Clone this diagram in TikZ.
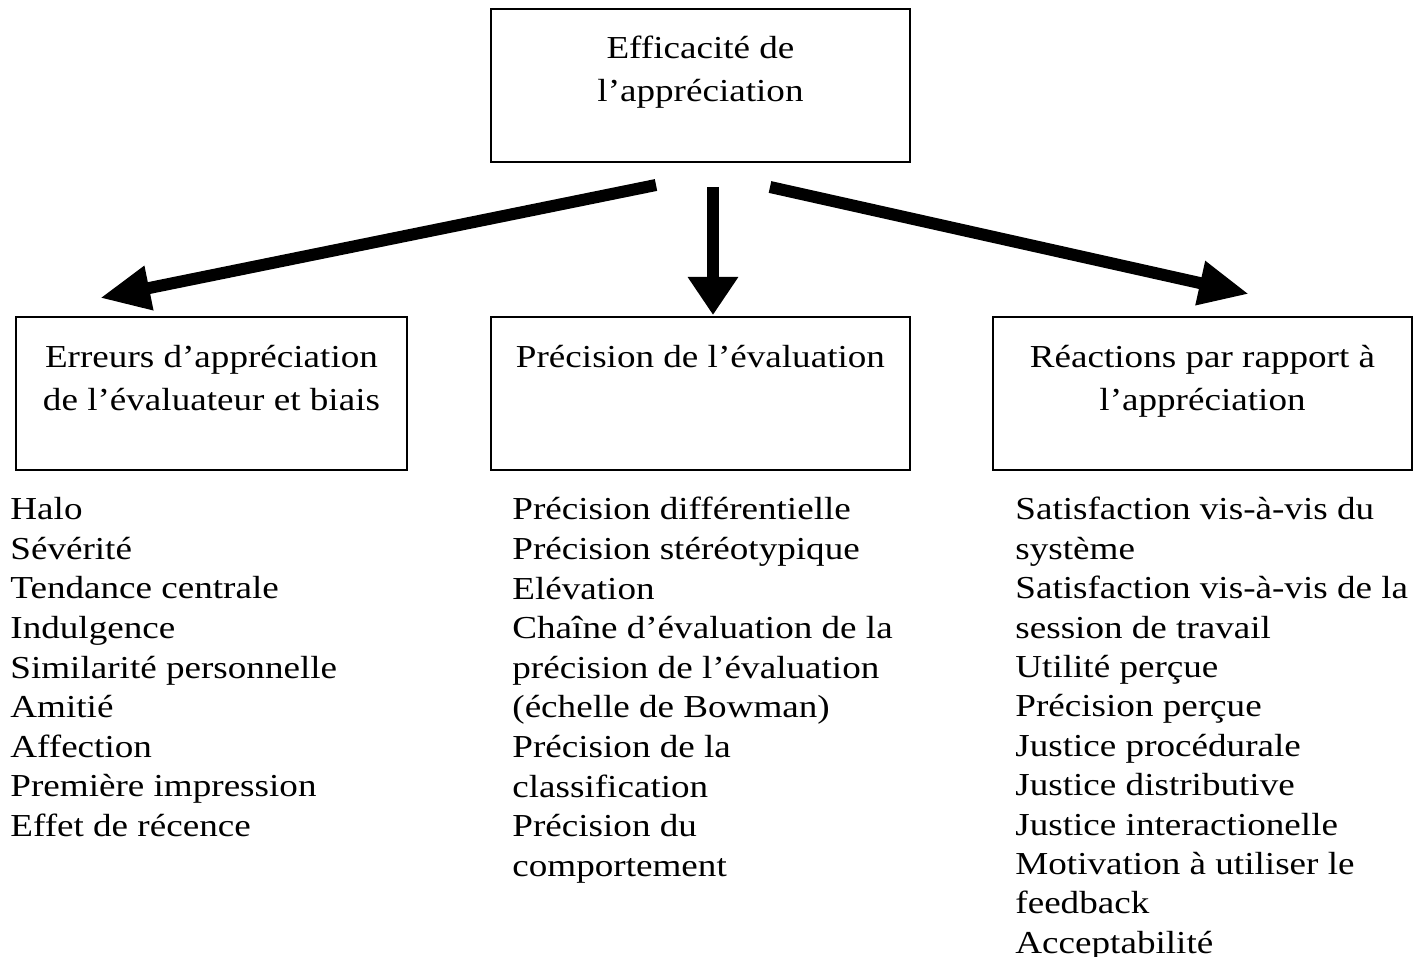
\documentclass[tikz,border=0pt]{standalone}
\usepackage{fontspec}
\setmainfont{Liberation Serif}[FakeStretch=1.16]
\usetikzlibrary{arrows.meta,positioning}

\begin{document}
\begin{tikzpicture}[x=0.5pt, y=-0.5pt,
  every node/.style={font=\fontsize{16}{21.5}\selectfont, inner sep=0pt},
  catbox/.style={draw, line width=1.2pt, minimum width=209.5pt, minimum height=76.5pt},
  boxtext/.style={align=center},
  itemlist/.style={align=left, anchor=north west, font=\fontsize{16}{19.8}\selectfont},
  bigarrow/.style={line width=6pt, -{Triangle[length=25pt, width=21pt]}}]
\useasboundingbox (0,0) rectangle (1413,957);

% boxes
\node[catbox] (top) at (700.5,85.5) {};
\node[catbox, minimum width=195.5pt] (errors) at (211.5,393.5) {};
\node[catbox] (accuracy) at (700.5,393.5) {};
\node[catbox] (reactions) at (1202.5,393.5) {};

\node[boxtext, below=14pt of top.north] (toptext) {Efficacité de\\l’appréciation};
\node[boxtext, below=14.5pt of errors.north] (errtext) {Erreurs d’appréciation\\de l’évaluateur et biais};
\node[boxtext, below=14.5pt of accuracy.north] (acctext) {Précision de l’évaluation};
\node[boxtext, below=14.5pt of reactions.north] (reatext) {Réactions par rapport à\\l’appréciation};

% arrows
\coordinate (lfrom) at (656,185);
\coordinate (lto) at (100,298);
\coordinate (mfrom) at (713,187);
\coordinate (mto) at (713,315);
\coordinate (rfrom) at (770,187);
\coordinate (rto) at (1249,294);
\draw[bigarrow] (lfrom) -- (lto);
\draw[bigarrow, -{Triangle[length=19pt, width=24pt]}] (mfrom) -- (mto);
\draw[bigarrow] (rfrom) -- (rto);

% lists
\node[itemlist] (errlist) at (10,497) {Halo\\Sévérité\\Tendance centrale\\Indulgence\\Similarité personnelle\\Amitié\\Affection\\Première impression\\Effet de récence};
\node[itemlist] (acclist) at (512,497) {Précision différentielle\\Précision stéréotypique\\Elévation\\Chaîne d’évaluation de la\\précision de l’évaluation\\(échelle de Bowman)\\Précision de la\\classification\\Précision du\\comportement};
\node[itemlist, font=\fontsize{16}{19.7}\selectfont] (realist) at (1015,497) {Satisfaction vis-à-vis du\\système\\Satisfaction vis-à-vis de la\\session de travail\\Utilité perçue\\Précision perçue\\Justice procédurale\\Justice distributive\\Justice interactionelle\\Motivation à utiliser le\\feedback\\Acceptabilité};
\end{tikzpicture}
\end{document}
